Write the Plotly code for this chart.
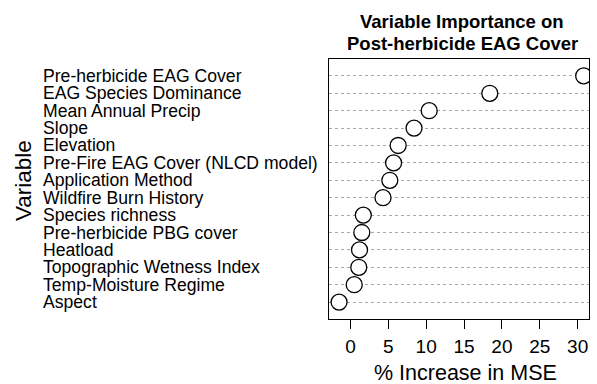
import plotly.graph_objects as go

variables = [
    "Pre-herbicide EAG Cover",
    "EAG Species Dominance",
    "Mean Annual Precip",
    "Slope",
    "Elevation",
    "Pre-Fire EAG Cover (NLCD model)",
    "Application Method",
    "Wildfire Burn History",
    "Species richness",
    "Pre-herbicide PBG cover",
    "Heatload",
    "Topographic Wetness Index",
    "Temp-Moisture Regime",
    "Aspect",
]
pct_inc_mse = [30.8, 18.4, 10.4, 8.4, 6.3, 5.7, 5.2, 4.3, 1.7, 1.5, 1.2, 1.1, 0.5, -1.5]
x_ticks = [0, 5, 10, 15, 20, 25, 30]
title_lines = ["Variable Importance on", "Post-herbicide EAG Cover"]

n = len(variables)
ypos = [n - i for i in range(n)]

W, H = 597, 384
L, R, T, B = 329, 8, 59, 65
pw = W - L - R
ph = H - T - B


def px_x(x):
    return (x - L) / pw


def px_y(y):
    return 1 + (T - y) / ph


fig = go.Figure()
fig.add_trace(go.Scatter(
    x=pct_inc_mse, y=ypos, mode="markers",
    marker=dict(symbol="circle", size=16, color="white",
                line=dict(color="black", width=1.3)),
    hoverinfo="skip", showlegend=False,
))

font = "Liberation Sans, Arial, Helvetica, sans-serif"
for name, yp in zip(variables, ypos):
    fig.add_annotation(
        text=name, x=px_x(41), xref="paper", y=yp, yref="y",
        xanchor="left", yanchor="middle", showarrow=False,
        font=dict(family=font, size=17.6, color="black"),
    )

fig.add_annotation(
    text="Variable", x=px_x(23), xref="paper", y=px_y(181), yref="paper",
    textangle=-90, xanchor="center", yanchor="middle", showarrow=False,
    font=dict(family=font, size=22.5, color="black"),
)

for line, yc in zip(title_lines, [21.7, 43.3]):
    fig.add_annotation(
        text="<b>" + line + "</b>", x=px_x(462), xref="paper", y=px_y(yc), yref="paper",
        xanchor="center", yanchor="middle", showarrow=False,
        font=dict(family=font, size=18.5, color="black"),
    )

fig.add_annotation(
    text="% Increase in MSE", x=px_x(465), xref="paper", y=px_y(373), yref="paper",
    xanchor="center", yanchor="middle", showarrow=False,
    font=dict(family=font, size=21.5, color="black"),
)

fig.update_layout(
    width=W, height=H,
    margin=dict(l=L, r=R, t=T, b=B, pad=0),
    paper_bgcolor="white", plot_bgcolor="white",
    font=dict(family=font, color="black"),
    xaxis=dict(
        range=[-2.83, 31.5], tickvals=x_ticks, ticks="outside", ticklen=9,
        tickwidth=1, tickcolor="black", showgrid=False, zeroline=False,
        showline=True, linecolor="black", linewidth=1, mirror=True,
        ticklabelstandoff=1,
        tickfont=dict(family=font, size=19, color="black"),
    ),
    yaxis=dict(
        range=[0.03, n + 0.97], tickvals=ypos, showticklabels=False, ticks="",
        showgrid=True, gridcolor="#a8a8a8", griddash="dot", gridwidth=1,
        zeroline=False, showline=True, linecolor="black", linewidth=1, mirror=True,
    ),
)

fig.write_html("out.html")
